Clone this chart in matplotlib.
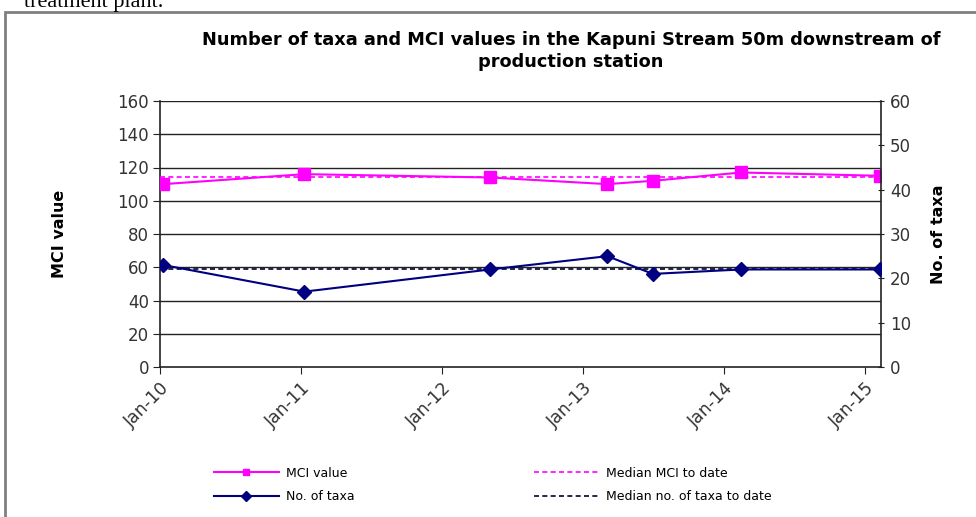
import matplotlib
matplotlib.use("Agg")
import matplotlib.pyplot as plt
import matplotlib.dates as mdates
from matplotlib.patches import Rectangle
import datetime as dt

plt.rcParams['font.family'] = ['DejaVu Sans']

# Data
sample_dates = ["2010-01-10", "2011-01-10", "2012-05-05", "2013-03-05",
                "2013-07-01", "2014-02-15", "2015-02-10"]
mci_values = [110, 116, 114, 110, 112, 117, 115]
taxa_counts = [23, 17, 22, 25, 21, 22, 22]
median_mci = 114
median_taxa = 22
x_ticks = ["2010-01-01", "2011-01-01", "2012-01-01", "2013-01-01", "2014-01-01", "2015-01-01"]

dates = [dt.datetime.strptime(d, "%Y-%m-%d") for d in sample_dates]
tick_dates = [dt.datetime.strptime(d, "%Y-%m-%d") for d in x_ticks]
x_start = dt.datetime(2010, 1, 1)
x_end = dt.datetime(2015, 2, 12)

fig = plt.figure(figsize=(9.76, 5.17), dpi=100)
fig.patch.set_facecolor('white')

# outer frame
fig.patches.append(Rectangle((5/976, -0.01), 1.0, 1 - 12/517 + 0.01, transform=fig.transFigure,
                             fill=False, edgecolor='#808080', linewidth=2))
# cut-off text at top (partially visible in the reference)
fig.text(0.025, 0.995, "treatment plant.", family='Liberation Serif', fontsize=16,
         ha='left', va='center')

ax = fig.add_axes([160/976, 1 - 367/517, (881 - 160)/976, (367 - 101)/517])
ax2 = ax.twinx()

ax.set_xlim(x_start, x_end)
ax.set_ylim(0, 160)
ax2.set_ylim(0, 60)

ax.set_yticks(range(0, 161, 20))
ax2.set_yticks(range(0, 61, 10))
for y in range(20, 161, 20):
    ax.axhline(y, color='#222222', linewidth=1.0, zorder=0)

l1, = ax.plot(dates, mci_values, color='#FF00FF', marker='s', markersize=9,
              linewidth=1.5, label='MCI value', zorder=4)
l3, = ax.plot([x_start, x_end], [median_mci, median_mci], color='#FF00FF',
              linestyle=(0, (3, 2)), linewidth=1.2, label='Median MCI to date', zorder=3)
l2, = ax2.plot(dates, taxa_counts, color='#000080', marker='D', markersize=7,
               linewidth=1.5, label='No. of taxa', zorder=4)
l4, = ax2.plot([x_start, x_end], [median_taxa, median_taxa], color='#000030',
               linestyle=(0, (3, 2)), linewidth=1.2, label='Median no. of taxa to date', zorder=3)

ax.set_xticks(tick_dates)
ax.xaxis.set_major_formatter(mdates.DateFormatter('%b-%y'))
for lab in ax.get_xticklabels():
    lab.set_rotation(45)
    lab.set_ha('right')
    lab.set_rotation_mode('anchor')

for a in (ax, ax2):
    for s in a.spines.values():
        s.set_visible(False)
ax.spines['left'].set_visible(True)
ax.spines['bottom'].set_visible(True)
ax2.spines['right'].set_visible(True)
for s in (ax.spines['left'], ax.spines['bottom'], ax2.spines['right']):
    s.set_color('#222222')
    s.set_linewidth(1.2)

ax.tick_params(axis='y', labelsize=12, colors='#222222', length=5, direction='out', pad=3)
ax.tick_params(axis='x', labelsize=12.5, colors='#222222', length=5, direction='out', pad=4)
ax2.tick_params(axis='y', labelsize=12, colors='#222222', length=5, direction='inout', pad=4)
for lab in ax.get_yticklabels() + ax2.get_yticklabels() + ax.get_xticklabels():
    lab.set_color('#333333')

ax.set_ylabel('MCI value', fontsize=11.5, fontweight='bold', labelpad=36)
ax2.set_ylabel('No. of taxa', fontsize=11.5, fontweight='bold', labelpad=14)

fig.text(0.585, 1 - 51/517, "Number of taxa and MCI values in the Kapuni Stream 50m downstream of\nproduction station",
         ha='center', va='center', fontsize=12.8, fontweight='bold', linespacing=1.3)

leg = fig.legend(handles=[l1, l2, l3, l4], loc='center', bbox_to_anchor=(0.505, 1 - 485/517),
                 ncol=2, frameon=False, fontsize=9, handlelength=5.2, columnspacing=14.3,
                 labelspacing=0.85, handletextpad=0.6)
for h in leg.legend_handles:
    h.set_markersize(5)

fig.savefig('out.png', dpi=100, facecolor='white')
